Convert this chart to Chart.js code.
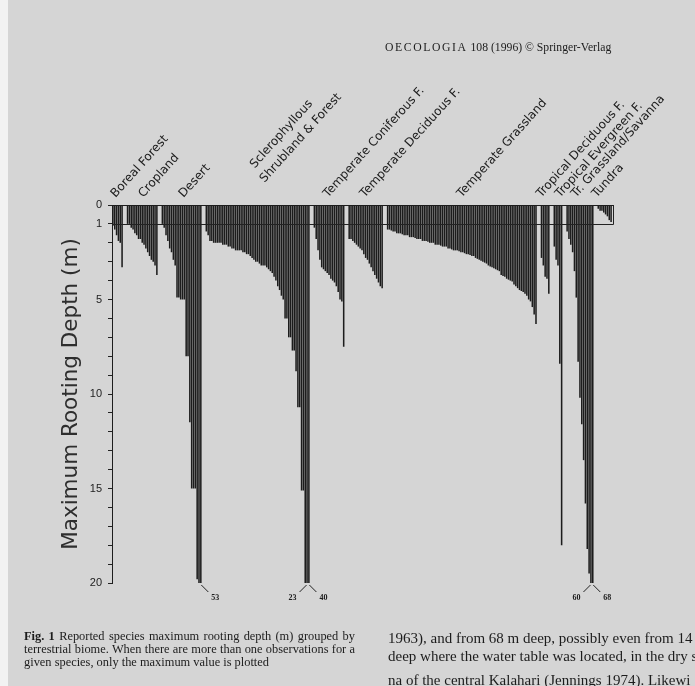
<!DOCTYPE html>
<html>
<head>
<meta charset="utf-8">
<script src="https://cdn.jsdelivr.net/npm/chart.js@4.4.1/dist/chart.umd.min.js"></script>
<style>
  html, body { margin: 0; padding: 0; background: #d5d5d5; }
  body { width: 695px; height: 686px; position: relative; overflow: hidden; }
  #edge { position: absolute; left: 0; top: 0; width: 8px; height: 686px; background: #f2f2f2; }
  #wrap { position: absolute; left: 0; top: 0; width: 695px; height: 686px; }
  .hdr { position: absolute; left: 385px; top: 41px; font-family: "Liberation Serif", serif; font-size: 11.7px; color: #1c1c1c; white-space: nowrap; }
  .hdr .j { letter-spacing: 1.6px; }
  .capL { position: absolute; left: 24px; width: 331px; font-family: "Liberation Serif", serif; font-size: 12.4px; color: #1c1c1c; white-space: nowrap; text-align: justify; text-align-last: justify; }
  .capL.last { text-align-last: left; }
  .capR { position: absolute; left: 388px; font-family: "Liberation Serif", serif; font-size: 15px; color: #1c1c1c; white-space: nowrap; }
</style>
</head>
<body>
<div id="edge"></div>
<div id="wrap"><canvas id="c" width="695" height="686"></canvas></div>
<div class="hdr"><span class="j">OECOLOGIA</span> 108 (1996) © Springer-Verlag</div>
<div class="capL" style="top:629px"><b>Fig. 1</b> Reported species maximum rooting depth (m) grouped by</div>
<div class="capL" style="top:642px">terrestrial biome. When there are more than one observations for a</div>
<div class="capL last" style="top:655px">given species, only the maximum value is plotted</div>
<div class="capR" style="top:630px">1963), and from 68 m deep, possibly even from 14</div>
<div class="capR" style="top:648px">deep where the water table was located, in the dry sav</div>
<div class="capR" style="top:672px">na of the central Kalahari (Jennings 1974). Likewi</div>
<script>
// Maximum rooting depth (m) of each species, grouped by biome, sorted shallow to deep
const BOREAL      = [1.1, 1.3, 1.6, 1.9, 2.0, 3.3];
const CROPLAND    = [1.0, 1.0, 1.2, 1.3, 1.5, 1.6, 1.8, 1.8, 2.0, 2.1, 2.3, 2.5, 2.7, 2.9, 3.0, 3.2, 3.7];
const DESERT      = [1.0, 1.2, 1.6, 1.9, 2.3, 2.5, 2.9, 3.2, 4.9, 4.9, 5.0, 5.0, 5.0, 8.0, 8.0, 11.5,
                     15.0, 15.0, 15.0, 19.8, 20.0, 53];
const SCLEROPHYLL = [1.4, 1.6, 1.9, 1.9, 2.0, 2.0, 2.0, 2.0, 2.0, 2.1, 2.1, 2.1, 2.2, 2.2, 2.3, 2.3, 2.4, 2.4, 2.4, 2.4,
                     2.5, 2.5, 2.6, 2.6, 2.7, 2.8, 2.9, 3.0, 3.0, 3.1, 3.2, 3.2, 3.2, 3.3, 3.4, 3.5, 3.6, 3.8, 4.0, 4.3,
                     4.5, 4.8, 5.0, 6.0, 6.0, 7.0, 7.0, 7.7, 7.7, 8.8, 10.7, 10.7, 15.1, 15.1, 20.0, 23, 40];
const TEMP_CONIF  = [1.2, 1.8, 2.4, 2.9, 3.3, 3.4, 3.5, 3.6, 3.7, 3.9, 4.0, 4.1, 4.3, 4.6, 5.0, 5.1, 7.5];
const TEMP_DECID  = [1.8, 1.8, 1.9, 2.0, 2.1, 2.2, 2.3, 2.4, 2.6, 2.8, 2.9, 3.1, 3.3, 3.5, 3.7, 3.9, 4.1, 4.3, 4.4];
const TEMP_GRASS  = [1.3, 1.3, 1.35, 1.4, 1.4,
                     1.5, 1.5, 1.5, 1.55, 1.6, 1.6, 1.6,
                     1.7, 1.7, 1.7, 1.75, 1.8, 1.8, 1.8,
                     1.9, 1.9, 1.9, 1.95, 2.0, 2.0, 2.0,
                     2.1, 2.1, 2.1, 2.15, 2.2, 2.2, 2.2,
                     2.3, 2.3, 2.35, 2.4, 2.4, 2.4, 2.45, 2.5,
                     2.5, 2.55, 2.6, 2.6, 2.65, 2.7, 2.7,
                     2.8, 2.85, 2.9, 2.95, 3.0, 3.05, 3.1,
                     3.2, 3.25, 3.3, 3.35, 3.4, 3.45, 3.5,
                     3.7, 3.75, 3.8, 3.9, 3.95, 4.0, 4.05,
                     4.2, 4.3, 4.4, 4.5, 4.55, 4.6,
                     4.7, 4.8, 5.0, 5.1,
                     5.4, 5.8, 6.3];
const TROP_DECID  = [2.8, 3.2, 3.8, 3.9, 4.7];
const TROP_EVER   = [2.2, 2.9, 3.2, 8.4, 18.0];
const TROP_SAV    = [1.4, 1.8, 2.1, 2.5, 3.5, 4.9, 8.3, 10.2, 11.6, 13.5, 15.8, 18.2, 19.5, 60, 68];
const TUNDRA      = [0.2, 0.3, 0.3, 0.4, 0.5, 0.6, 0.8, 0.9];

const BIOMES = ['Boreal Forest', 'Cropland', 'Desert', ['Sclerophyllous', 'Shrubland & Forest'],
                'Temperate Coniferous F.', 'Temperate Deciduous F.', 'Temperate Grassland',
                'Tropical Deciduous F.', 'Tropical Evergreen F.', 'Tr. Grassland/Savanna', 'Tundra'];
const SERIES = [BOREAL, CROPLAND, DESERT, SCLEROPHYLL, TEMP_CONIF, TEMP_DECID, TEMP_GRASS,
                TROP_DECID, TROP_EVER, TROP_SAV, TUNDRA];

const Y_TICK_LABELS = [0, 1, 5, 10, 15, 20];
const Y_MAX = 20;
const REF_DEPTH = 1;
const GAP_SLOTS = 2;

// Lay every biome out on one category axis, with empty slots between groups
const labels = [], depths = [], groups = [];
SERIES.forEach((vals, g) => {
  if (g > 0) for (let k = 0; k < GAP_SLOTS; k++) { labels.push(''); depths.push(null); }
  const start = depths.length;
  vals.forEach((v, k) => { labels.push(g + '.' + k); depths.push(v); });
  groups.push({ name: BIOMES[g], start, end: depths.length - 1 });
});

// Biome names written diagonally above each group; small sideways nudges keep
// the crowded tropical names apart
const NAME_NUDGE = [-1, 2, 3, 8, 0, 0, 1, -3, 3, -3, -7];
const biomeLabels = {
  id: 'biomeLabels',
  afterDraw(chart) {
    const { ctx, chartArea, scales: { x } } = chart;
    const ang = -48 * Math.PI / 180;
    ctx.save();
    ctx.font = '12px "DejaVu Sans"';
    ctx.fillStyle = '#202020';
    ctx.textAlign = 'left';
    ctx.textBaseline = 'alphabetic';
    groups.forEach((gr, g) => {
      const cx = (x.getPixelForValue(gr.start) + x.getPixelForValue(gr.end)) / 2;
      const lines = Array.isArray(gr.name) ? gr.name : [gr.name];
      const lift = lines.length > 1 ? 22 : 7;
      ctx.save();
      ctx.translate(cx - 1 + NAME_NUDGE[g], chartArea.top - lift);
      ctx.rotate(ang);
      lines.forEach((ln, i) => {
        const back = lines.length - 1 - i;
        ctx.fillText(ln, back * 4, -back * 17);
      });
      ctx.restore();
    });
    ctx.restore();
  }
};

// 1 m reference line, and the true depth of bars running past the axis
const extras = {
  id: 'extras',
  afterDatasetsDraw(chart) {
    const { ctx, chartArea, scales: { x, y } } = chart;
    const yr = Math.round(y.getPixelForValue(REF_DEPTH)) + 0.5;
    const xr = Math.round(x.getPixelForValue(depths.length - 1) + 1.5) + 0.5;
    ctx.save();
    ctx.strokeStyle = '#222';
    ctx.lineWidth = 1;
    ctx.beginPath();
    ctx.moveTo(chartArea.left, yr);
    ctx.lineTo(xr, yr);
    ctx.lineTo(xr, chartArea.top);
    ctx.stroke();

    ctx.font = 'bold 8px "Liberation Serif"';
    ctx.fillStyle = '#1c1c1c';
    ctx.textAlign = 'center';
    ctx.textBaseline = 'middle';
    const bottom = chartArea.bottom;
    groups.forEach(gr => {
      const deep = [];
      for (let i = gr.start; i <= gr.end; i++) if (depths[i] > Y_MAX) deep.push(i);
      deep.forEach((i, k) => {
        const px = x.getPixelForValue(i);
        const dir = (deep.length > 1 && k === 0) ? -1 : 1;
        const x0 = px + dir * 0.5;
        ctx.beginPath();
        ctx.moveTo(x0, bottom + 2);
        ctx.lineTo(x0 + dir * 7, bottom + 9);
        ctx.stroke();
        ctx.fillText(String(depths[i]), x0 + dir * 14, bottom + 15);
      });
    });
    ctx.restore();
  }
};

new Chart(document.getElementById('c'), {
  type: 'bar',
  data: {
    labels,
    datasets: [{
      data: depths,
      backgroundColor: '#1c1c1c',
      borderWidth: 0,
      barPercentage: 0.84,
      categoryPercentage: 1
    }]
  },
  options: {
    responsive: false,
    animation: false,
    devicePixelRatio: 1,
    layout: { padding: { left: 0, top: 205, right: 83, bottom: 103 } },
    plugins: { legend: { display: false }, tooltip: { enabled: false } },
    scales: {
      x: {
        type: 'category',
        position: 'top',
        ticks: { display: false },
        grid: { display: false },
        border: { display: true, color: '#1e1e1e', width: 1 },
        afterFit(s) { s.height = 0; }
      },
      y: {
        type: 'linear',
        reverse: true,
        min: 0,
        max: Y_MAX,
        ticks: {
          stepSize: 1,
          autoSkip: false,
          padding: 6,
          color: '#222',
          font: { family: 'Liberation Sans', size: 11 },
          callback: v => Y_TICK_LABELS.includes(v) ? String(v) : ''
        },
        grid: { drawOnChartArea: false, drawTicks: true, tickLength: 4, color: '#222' },
        border: { display: true, color: '#1e1e1e', width: 1 },
        title: {
          display: true,
          text: 'Maximum Rooting Depth (m)',
          color: '#2e2e2e',
          font: { family: 'DejaVu Sans', size: 21.5 },
          padding: { top: 59, bottom: 0 }
        },
        afterFit(s) { s.width = 112; }
      }
    }
  },
  plugins: [biomeLabels, extras]
});
</script>
</body>
</html>
